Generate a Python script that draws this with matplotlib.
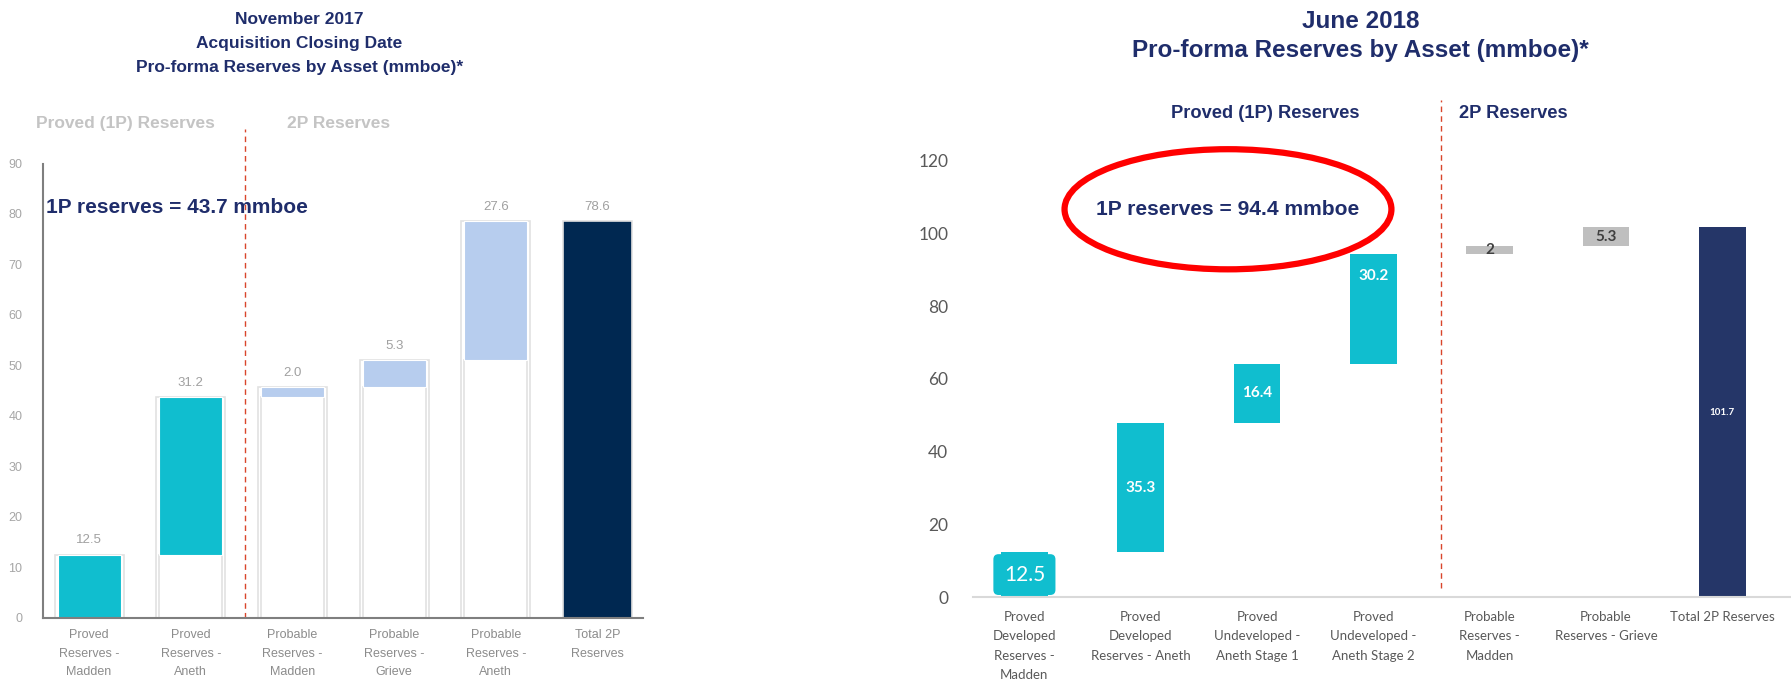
import matplotlib.pyplot as plt
from matplotlib.patches import Ellipse
from matplotlib import font_manager

# November 2017 - acquisition closing date
nov_labels = ['Proved\nReserves -\nMadden', 'Proved\nReserves -\nAneth',
              'Probable\nReserves -\nMadden', 'Probable\nReserves -\nGrieve',
              'Probable\nReserves -\nAneth', 'Total 2P\nReserves']
nov_steps = [12.5, 31.2, 2.0, 5.3, 27.6]
nov_kinds = ['proved', 'proved', 'probable', 'probable', 'probable']
nov_total = 78.6
nov_1p = 43.7
nov_yticks = [0, 10, 20, 30, 40, 50, 60, 70, 80, 90]

# June 2018 - pro-forma
jun_labels = ['Proved\nDeveloped\nReserves -\nMadden', 'Proved\nDeveloped\nReserves - Aneth',
              'Proved\nUndeveloped -\nAneth Stage 1', 'Proved\nUndeveloped -\nAneth Stage 2',
              'Probable\nReserves -\nMadden', 'Probable\nReserves - Grieve', 'Total 2P Reserves']
jun_steps = [12.5, 35.3, 16.4, 30.2, 2, 5.3]
jun_kinds = ['proved', 'proved', 'proved', 'proved', 'probable', 'probable']
jun_total = 101.7
jun_1p = 94.4
jun_yticks = [0, 20, 40, 60, 80, 100, 120]

NAVY = '#1F2D6B'
CYAN = '#10BECF'
names = {f.name for f in font_manager.fontManager.ttflist}
NARROW = 'Liberation Sans Narrow' if 'Liberation Sans Narrow' in names else 'Liberation Sans'
narrow_scale = 1.0 if NARROW == 'Liberation Sans Narrow' else 0.82

plt.rcParams['font.family'] = ['Liberation Sans', 'DejaVu Sans']

fig = plt.figure(figsize=(17.91, 6.85), dpi=100)

# ---------------- left: Nov 2017 ----------------
ax1 = fig.add_axes([0.0242, 0.098, 0.335, 0.737])
bottoms = []
run = 0
for v in nov_steps:
    bottoms.append(run)
    run += v
colors = {'proved': CYAN, 'probable': '#B7CDEE'}
for i, v in enumerate(nov_steps):
    top = bottoms[i] + v
    ax1.bar(i, top, width=0.68, color='white', edgecolor='#E2E2E2', linewidth=1.2)
    if bottoms[i] > 0:
        ax1.bar(i, bottoms[i], width=0.62, color='white', edgecolor='#E2E2E2', linewidth=1.2)
    ax1.bar(i, v, bottom=bottoms[i], width=0.62, color=colors[nov_kinds[i]],
            edgecolor='white', linewidth=0.8)
    ax1.annotate(f'{v:.1f}', (i, top), xytext=(0, 6), textcoords='offset points',
                 ha='center', va='bottom', fontsize=9.5, color='#A0A0A0')
n = len(nov_steps)
ax1.bar(n, nov_total, width=0.68, color='#002851', edgecolor='#E2E2E2', linewidth=1.2)
ax1.annotate(f'{nov_total:.1f}', (n, nov_total), xytext=(0, 6), textcoords='offset points',
             ha='center', va='bottom', fontsize=9.5, color='#A0A0A0')

ax1.plot([1.53, 1.53], [0, 96.8], ls=(0, (4, 3)), color='#D9452B', lw=1, clip_on=False)
ax1.text(0.36, 98, 'Proved (1P) Reserves', ha='center', va='center', fontsize=12.5,
         fontweight='bold', color='#C4C4C4')
ax1.text(2.45, 98, '2P Reserves', ha='center', va='center', fontsize=12.5,
         fontweight='bold', color='#C4C4C4')
ax1.text(-0.42, 81.2, f'1P reserves = {nov_1p} mmboe', ha='left', va='center',
         fontsize=15, fontweight='bold', color=NAVY)

ax1.set_xlim(-0.45, 5.45)
ax1.set_ylim(0, 100)
ax1.set_yticks(nov_yticks)
ax1.set_xticks(range(len(nov_labels)))
ax1.set_xticklabels(nov_labels, fontsize=9, color='#8C8C8C', linespacing=1.75)
ax1.tick_params(axis='y', length=0, pad=15, labelsize=9, labelcolor='#A6A6A6')
ax1.tick_params(axis='x', length=0, pad=8)
for s in ['top', 'right']:
    ax1.spines[s].set_visible(False)
ax1.spines['left'].set_bounds(0, 90)
ax1.spines['left'].set_color('#7F7F7F')
ax1.spines['left'].set_linewidth(1.5)
ax1.spines['bottom'].set_color('#7F7F7F')
ax1.spines['bottom'].set_linewidth(1.5)

fig.text(0.167, 0.982, 'November 2017\nAcquisition Closing Date\nPro-forma Reserves by Asset (mmboe)*',
         ha='center', va='top', fontsize=15.3 * narrow_scale, fontweight='bold', color=NAVY,
         family=NARROW, linespacing=1.75)

# ---------------- right: Jun 2018 ----------------
ax2 = fig.add_axes([0.5434, 0.128, 0.4566, 0.744])
run = 0
for i, v in enumerate(jun_steps):
    c = CYAN if jun_kinds[i] == 'proved' else '#BFBFBF'
    ax2.bar(i, v, bottom=run, width=0.4, color=c)
    mid = run + v / 2
    if i == 0:
        ax2.text(i, mid, f'{v:g}', ha='center', va='center', fontsize=15, color='white',
                 family=['Lato', 'DejaVu Sans'],
                 bbox=dict(boxstyle='round,pad=0.5,rounding_size=0.25', fc=CYAN, ec='none'))
    elif jun_kinds[i] == 'proved':
        if i == 3:
            mid = run + v * 0.8
        ax2.text(i, mid, f'{v:g}', ha='center', va='center', fontsize=11, color='white',
                 fontweight='bold', family=['Lato', 'DejaVu Sans'])
    else:
        ax2.text(i, mid, f'{v:g}', ha='center', va='center', fontsize=11, color='#404040',
                 fontweight='bold', family=['Lato', 'DejaVu Sans'])
    run += v
m = len(jun_steps)
ax2.bar(m, jun_total, width=0.4, color='#253668')
ax2.text(m, jun_total / 2, f'{jun_total:g}', ha='center', va='center', fontsize=7,
         color='white', fontweight='bold', family=['Lato', 'DejaVu Sans'])

ax2.plot([3.585, 3.585], [2.5, 136.6], ls=(0, (4, 3)), color='#D9452B', lw=1, clip_on=False)
ax2.text(2.07, 132.8, 'Proved (1P) Reserves', ha='center', va='center',
         fontsize=16 * narrow_scale, fontweight='bold', color=NAVY, family=NARROW)
ax2.text(3.74, 132.8, '2P Reserves', ha='left', va='center',
         fontsize=16 * narrow_scale, fontweight='bold', color=NAVY, family=NARROW)
ax2.text(1.75, 106.4, f'1P reserves = {jun_1p} mmboe', ha='center', va='center',
         fontsize=18.5 * narrow_scale, fontweight='bold', color=NAVY, family=NARROW)
ax2.add_patch(Ellipse((1.75, 106.6), 2.81, 33, fill=False, ec='#FF0000', lw=4.5,
                      clip_on=False))

ax2.set_xlim(-0.44, 6.59)
ax2.set_ylim(0, 140)
ax2.set_yticks(jun_yticks)
ax2.set_yticklabels([str(t) for t in jun_yticks], family=['Lato', 'DejaVu Sans'],
                    fontsize=12.5, color='#595959')
ax2.set_xticks(range(len(jun_labels)))
ax2.set_xticklabels(jun_labels, family=['Lato', 'DejaVu Sans'], fontsize=9.5,
                    color='#595959', linespacing=1.72)
ax2.tick_params(axis='y', length=0, pad=18)
ax2.tick_params(axis='x', length=0, pad=10)
for s in ['top', 'right', 'left']:
    ax2.spines[s].set_visible(False)
ax2.spines['bottom'].set_color('#D9D9D9')
ax2.spines['bottom'].set_linewidth(1.5)

fig.text(0.7596, 0.985, 'June 2018\nPro-forma Reserves by Asset (mmboe)*',
         ha='center', va='top', fontsize=17.5, fontweight='bold', color=NAVY, linespacing=1.3)

fig.savefig('out.png', dpi=100)
